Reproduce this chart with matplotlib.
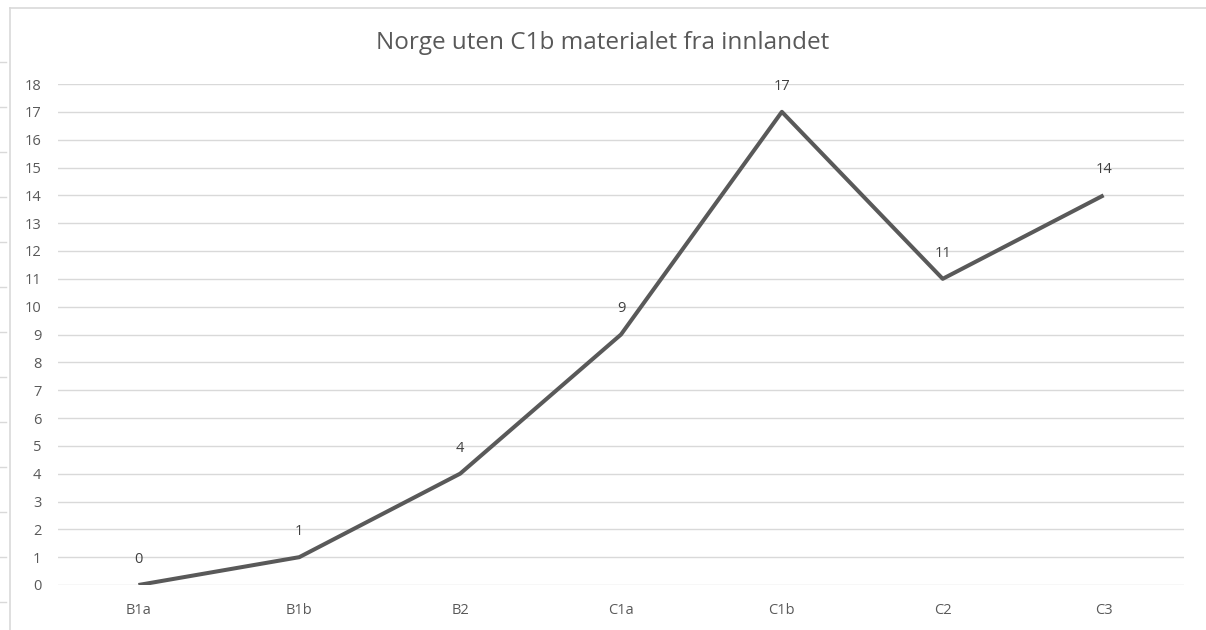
import matplotlib
matplotlib.use('Agg')
import matplotlib.pyplot as plt
from matplotlib.lines import Line2D

categories = ['B1a', 'B1b', 'B2', 'C1a', 'C1b', 'C2', 'C3']
values = [0, 1, 4, 9, 17, 11, 14]
title = 'Norge uten C1b materialet fra innlandet'

plt.rcParams['font.family'] = ['Open Sans', 'DejaVu Sans']
grey_txt = '#595959'

fig = plt.figure(figsize=(12.06, 6.3), dpi=100)
ax = fig.add_axes([58/1206, 1-585/630, (1184-58)/1206, (585-84)/630])

x = list(range(len(categories)))
ax.plot(x, values, color='#595959', lw=2.9, solid_capstyle='butt', zorder=3)
for xi, v in zip(x, values):
    ax.annotate(str(v), (xi, v), xytext=(0, 13), textcoords='offset points',
                ha='center', va='bottom', fontsize=10.5, color='#404040')

ax.set_xlim(-0.5, len(categories)-0.5)
ax.set_ylim(0, 18)
ax.set_yticks(range(0, 19))
ax.set_xticks(x)
ax.set_xticklabels(categories)
ax.yaxis.grid(True, color='#d9d9d9', lw=1)
ax.set_axisbelow(True)
for s in ax.spines.values():
    s.set_visible(False)
ax.tick_params(axis='both', length=0, labelsize=10.5, colors=grey_txt)
ax.tick_params(axis='y', pad=12)
ax.tick_params(axis='x', pad=13)

fig.text(0.5, 1-43/630, title, ha='center', va='center', fontsize=17.5, color=grey_txt)

# chart frame (partly cropped)
fig.add_artist(Line2D([10/1206, 1], [1-8/630, 1-8/630], color='#d9d9d9', lw=1.2))
fig.add_artist(Line2D([10/1206, 10/1206], [0, 1-8/630], color='#d9d9d9', lw=1.2))
for yy in [62, 107, 152, 197, 242, 287, 332, 377, 422, 467, 512, 557, 602]:
    fig.add_artist(Line2D([0, 6/1206], [1-yy/630, 1-yy/630], color='#d9d9d9', lw=1))

fig.savefig('out.png', dpi=100)
